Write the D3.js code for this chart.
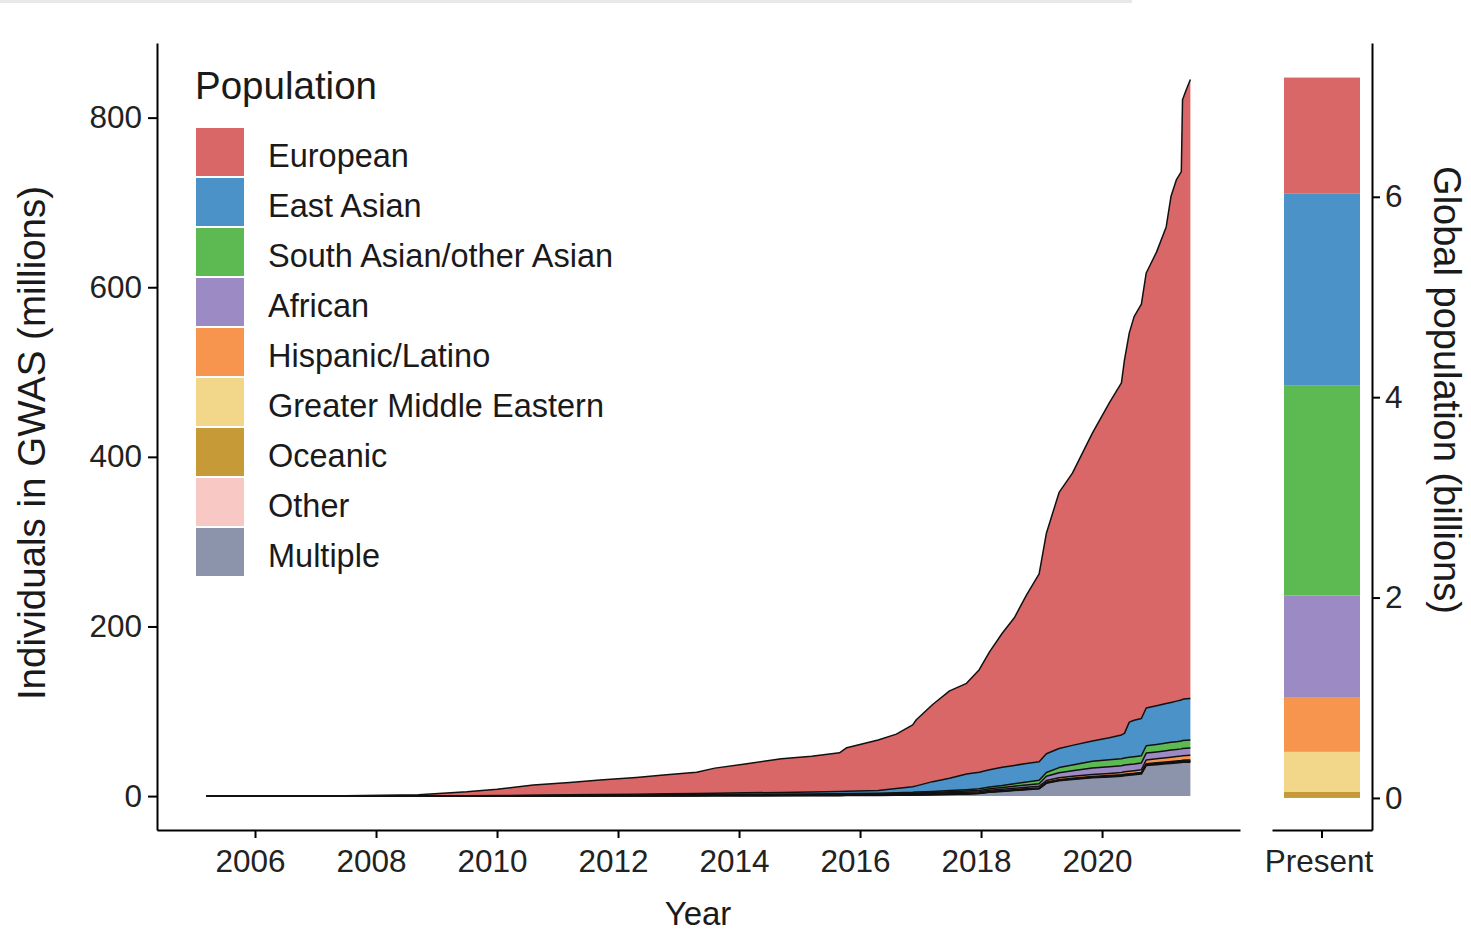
<!DOCTYPE html>
<meta charset="utf-8">
<title>GWAS individuals by population</title>
<style>
body { margin: 0; background: #fff; }
text { font-family: "Liberation Sans", Arial, sans-serif; fill: #1a1a1a; }
.axis path, .axis line { stroke: #000; stroke-width: 2; }
.axis text { font-size: 31.5px; fill: #222; }
</style>
<body>
<script src="https://d3js.org/d3.v7.min.js"></script>
<script>

// cumulative individuals (millions) per population at each time point
const years = [2005.2, 2007.5, 2008.7, 2009.5, 2010.0, 2010.6, 2011.2, 2011.7, 2012.3, 2012.8,
  2013.3, 2013.6, 2014.1, 2014.7, 2015.2, 2015.66, 2015.78, 2016.3, 2016.6, 2016.87,
  2016.93, 2017.2, 2017.48, 2017.76, 2017.97, 2018.14, 2018.35, 2018.55, 2018.75, 2018.96,
  2019.08, 2019.29, 2019.51, 2019.84, 2020.12, 2020.32, 2020.37, 2020.45, 2020.53, 2020.65,
  2020.73, 2020.9, 2021.06, 2021.14, 2021.23, 2021.31, 2021.33, 2021.39, 2021.46];

const european = [0, 0.3, 1.4, 4.7, 7.4, 12.0, 14.6, 17.2, 19.8, 22.4, 25.0, 29.6, 34.1, 39.7, 42.2,
  45.7, 51.4, 59.5, 64.0, 73, 78, 91, 103, 107, 121, 139, 158, 174, 198.5, 221.5, 260, 302, 321,
  363, 395, 415, 440, 459, 476, 488.5, 513, 535, 562, 597, 615, 623, 707, 718, 730];
const eastAsian = [0, 0, 0.05, 0.1, 0.2, 0.4, 0.6, 0.8, 1.0, 1.2, 1.4, 1.5, 1.8, 2.0, 2.3, 2.6, 2.7,
  3.3, 5.2, 6.6, 7.3, 11.5, 14.5, 18.4, 19.4, 20.3, 21.5, 21.6, 21.8, 22, 22.2, 22.5, 23, 24, 26,
  28, 29, 41.5, 43, 44, 44.5, 45.5, 46.5, 47, 47.8, 48.3, 48.6, 48.8, 49];
const southAsian = [0, 0, 0.02, 0.06, 0.1, 0.15, 0.2, 0.25, 0.3, 0.35, 0.4, 0.45, 0.5, 0.55, 0.6,
  0.65, 0.7, 0.8, 0.9, 1.0, 1.1, 1.3, 1.5, 1.7, 1.9, 2.1, 2.5, 3.0, 3.5, 4.0, 4.5, 6.0, 7.0, 8.0,
  8.2, 8.3, 8.4, 8.5, 8.5, 8.5, 8.6, 8.8, 9.0, 9.1, 9.2, 9.3, 9.35, 9.4, 9.4];
const african = [0, 0, 0.01, 0.03, 0.06, 0.1, 0.13, 0.16, 0.2, 0.23, 0.26, 0.3, 0.33, 0.37, 0.4,
  0.44, 0.47, 0.55, 0.7, 0.8, 0.85, 1.0, 1.2, 1.4, 1.6, 1.8, 2.0, 2.4, 2.8, 3.0, 5.0, 6.0, 6.5, 7.5,
  7.8, 7.9, 8.0, 8.0, 8.0, 8.0, 8.1, 8.2, 8.3, 8.35, 8.4, 8.45, 8.5, 8.55, 8.6];
const hispanic = [0, 0, 0.02, 0.05, 0.1, 0.15, 0.2, 0.25, 0.3, 0.35, 0.4, 0.45, 0.5, 0.55, 0.6,
  0.65, 0.7, 0.75, 0.85, 0.95, 1.0, 1.1, 1.2, 1.3, 1.4, 1.5, 1.6, 1.7, 1.8, 1.9, 2.0, 2.2, 2.3, 2.5,
  2.6, 2.7, 2.8, 2.9, 3.0, 3.1, 4.5, 4.7, 5.0, 5.1, 5.2, 5.3, 5.4, 5.45, 5.5];
const middleEastern = [0, 0, 0, 0.01, 0.02, 0.03, 0.04, 0.05, 0.06, 0.07, 0.08, 0.09, 0.1, 0.11,
  0.12, 0.13, 0.14, 0.15, 0.17, 0.19, 0.2, 0.22, 0.25, 0.28, 0.3, 0.33, 0.36, 0.4, 0.43, 0.46, 0.5,
  0.55, 0.58, 0.62, 0.65, 0.68, 0.7, 0.72, 0.74, 0.76, 0.85, 0.88, 0.9, 0.92, 0.94, 0.96, 0.98, 0.99, 1.0];
const oceanic = [0, 0, 0, 0, 0.01, 0.01, 0.01, 0.02, 0.02, 0.02, 0.03, 0.03, 0.03, 0.04, 0.04, 0.04,
  0.05, 0.05, 0.06, 0.07, 0.07, 0.08, 0.09, 0.1, 0.1, 0.12, 0.13, 0.14, 0.15, 0.16, 0.17, 0.18, 0.19,
  0.2, 0.21, 0.22, 0.22, 0.23, 0.23, 0.24, 0.26, 0.27, 0.28, 0.28, 0.29, 0.29, 0.3, 0.3, 0.3];
const other = [0, 0, 0, 0, 0.02, 0.03, 0.04, 0.05, 0.06, 0.07, 0.08, 0.09, 0.1, 0.11, 0.12, 0.13,
  0.14, 0.15, 0.17, 0.19, 0.2, 0.22, 0.25, 0.28, 0.3, 0.35, 0.4, 0.45, 0.5, 0.55, 0.6, 0.65, 0.7,
  0.75, 0.8, 0.82, 0.84, 0.86, 0.88, 0.9, 1.0, 1.05, 1.1, 1.12, 1.14, 1.16, 1.18, 1.19, 1.2];
const multiple = [0, 0, 0, 0.05, 0.1, 0.15, 0.2, 0.25, 0.3, 0.35, 0.4, 0.45, 0.5, 0.55, 0.6, 0.65,
  0.7, 0.8, 1.0, 1.2, 1.3, 1.6, 2.0, 2.5, 3.0, 4.5, 5.5, 6.5, 7.5, 8.5, 15, 18, 19.5, 21.5, 22.5,
  23.5, 24, 24.5, 25, 26, 36, 37, 38, 38.5, 39, 39.5, 39.8, 40, 40];

// legend order (top to bottom) and colours
const groups = ['European', 'East Asian', 'South Asian/other Asian', 'African', 'Hispanic/Latino',
  'Greater Middle Eastern', 'Oceanic', 'Other', 'Multiple'];
const colors = ['#da6767', '#4b92c9', '#5db952', '#9b8ac3', '#f7954e', '#f2d78b', '#c79a38',
  '#f8c8c5', '#8b94ab'];
const series = [european, eastAsian, southAsian, african, hispanic, middleEastern, oceanic, other, multiple];

// present-day global population (billions)
const popGroups = ['Oceanic', 'Greater Middle Eastern', 'Hispanic/Latino', 'African',
  'South Asian/other Asian', 'East Asian', 'European'];
const popBillions = [0.06, 0.40, 0.54, 1.02, 2.10, 1.91, 1.16];

const xTicks = [2006, 2008, 2010, 2012, 2014, 2016, 2018, 2020];
const yTicks = [0, 200, 400, 600, 800];
const yTicksRight = [0, 2, 4, 6];

const color = d3.scaleOrdinal().domain(groups).range(colors);
const stackKeys = groups.slice().reverse();   // bottom layer first

let rows = years.map((t, i) => {
  let r = { year: t };
  groups.forEach((g, j) => r[g] = series[j][i]);
  return r;
});

let svg = d3.select('body').append('svg')
    .attr('width', 1471)
    .attr('height', 931);

// strip of browser chrome at the top of the screenshot
svg.append('rect').attr('x', 0).attr('y', 0).attr('width', 1132).attr('height', 3).attr('fill', '#e8e8e8');

let x = d3.scaleLinear().domain([2004.38, 2022.28]).range([157, 1240]);
let y = d3.scaleLinear().domain([-40, 888]).range([830, 43]);

let stacked = d3.stack().keys(stackKeys)(rows);

let area = d3.area()
    .x(d => x(d.data.year))
    .y0(d => y(d[0]))
    .y1(d => y(d[1]));
let upper = d3.line()
    .x(d => x(d.data.year))
    .y(d => y(d[1]));

let plot = svg.append('g');
plot.selectAll('.layer')
    .data(stacked)
    .enter().append('path')
        .attr('class', 'layer')
        .attr('d', area)
        .attr('fill', d => color(d.key));
plot.selectAll('.edge')
    .data(stacked)
    .enter().append('path')
        .attr('class', 'edge')
        .attr('d', upper)
        .attr('fill', 'none')
        .attr('stroke', '#111')
        .attr('stroke-width', 1.5)
        .attr('stroke-linejoin', 'round');

let xAxis = svg.append('g')
    .attr('class', 'axis')
    .attr('transform', 'translate(0,830)')
    .call(d3.axisBottom(x).tickValues(xTicks).tickFormat(d3.format('d'))
        .tickSize(8).tickSizeOuter(0).tickPadding(12));
xAxis.selectAll('text').attr('dx', -5);

svg.append('g')
    .attr('class', 'axis')
    .attr('transform', 'translate(157,0)')
    .call(d3.axisLeft(y).tickValues(yTicks).tickSize(9).tickSizeOuter(0).tickPadding(6));

svg.append('text')
    .attr('transform', 'translate(45,443)rotate(-90)')
    .attr('text-anchor', 'middle')
    .style('font-size', '38.5px')
    .text('Individuals in GWAS (millions)');

svg.append('text')
    .attr('x', 698)
    .attr('y', 925)
    .attr('text-anchor', 'middle')
    .style('font-size', '33px')
    .text('Year');

// right panel: present-day population bar
let xr = d3.scaleBand().domain(['Present']).range([1272, 1372]).paddingInner(0.24).paddingOuter(0.12);
let yr = d3.scaleLinear().domain([-0.32, 7.535]).range([830, 43]);

let popRow = {};
popGroups.forEach((g, i) => popRow[g] = popBillions[i]);
let popStack = d3.stack().keys(popGroups)([popRow]);

svg.append('g').selectAll('rect')
    .data(popStack)
    .enter().append('rect')
        .attr('x', xr('Present'))
        .attr('width', xr.bandwidth())
        .attr('y', d => yr(d[0][1]))
        .attr('height', d => yr(d[0][0]) - yr(d[0][1]))
        .attr('fill', d => color(d.key));

let xrAxis = svg.append('g')
    .attr('class', 'axis')
    .attr('transform', 'translate(0,830)')
    .call(d3.axisBottom(xr).tickSize(8).tickSizeOuter(0).tickPadding(12));
xrAxis.selectAll('text').attr('dx', -3);

svg.append('g')
    .attr('class', 'axis')
    .attr('transform', 'translate(1372,0)')
    .call(d3.axisRight(yr).tickValues(yTicksRight).tickSize(8).tickSizeOuter(0).tickPadding(5));

svg.append('text')
    .attr('transform', 'translate(1434,390)rotate(90)')
    .attr('text-anchor', 'middle')
    .style('font-size', '38px')
    .text('Global population (billions)');

// legend
let legend = svg.append('g').attr('transform', 'translate(196,0)');
legend.append('text')
    .attr('x', -1)
    .attr('y', 99)
    .style('font-size', '38.5px')
    .text('Population');

let item = legend.selectAll('.item')
    .data(groups)
    .enter().append('g')
        .attr('class', 'item')
        .attr('transform', (d, i) => `translate(0,${128 + i * 50})`);
item.append('rect')
    .attr('width', 48)
    .attr('height', 48)
    .attr('fill', d => color(d));
item.append('text')
    .attr('x', 72)
    .attr('y', 39)
    .style('font-size', '32.5px')
    .text(d => d);

</script>
</body>
